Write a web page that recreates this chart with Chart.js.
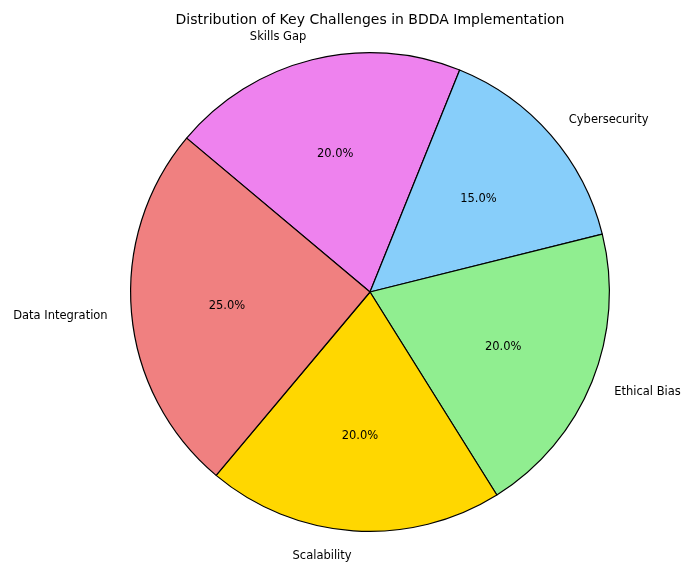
<!DOCTYPE html>
<html>
<head>
<meta charset="utf-8">
<script src="https://cdn.jsdelivr.net/npm/chart.js@4/dist/chart.umd.min.js"></script>
<style>
  html, body { margin: 0; padding: 0; background: #fff; }
  #wrap { width: 682px; height: 563px; position: relative; }
</style>
</head>
<body>
<div id="wrap"><canvas id="pie-chart"></canvas></div>
<script>
// values as in the source figure (counter-clockwise order, start at 140 deg)
const challenges = ['Data Integration', 'Scalability', 'Ethical Bias', 'Cybersecurity', 'Skills Gap'];
const shares = [25, 20, 20, 15, 20];
const sliceColors = ['#F08080', '#FFD700', '#90EE90', '#87CEFA', '#EE82EE'];
const chartTitle = 'Distribution of Key Challenges in BDDA Implementation';

// Chart.js goes clockwise from the top, so flip the order
const labels = challenges.slice().reverse();
const values = shares.slice().reverse();
const colors = sliceColors.slice().reverse();

const pieLabels = {
    id: 'pieLabels',
    afterDatasetsDraw(chart) {
        const ctx = chart.ctx;
        const meta = chart.getDatasetMeta(0);
        const total = values.reduce((a, b) => a + b, 0);
        ctx.save();
        ctx.fillStyle = '#000';
        ctx.textBaseline = 'middle';
        meta.data.forEach(function(arc, i) {
            const p = arc.getProps(['x', 'y', 'startAngle', 'endAngle', 'outerRadius'], true);
            const mid = (p.startAngle + p.endAngle) / 2;
            const cos = Math.cos(mid), sin = Math.sin(mid);
            // category label at 1.1 r
            ctx.font = '11.5px "DejaVu Sans"';
            ctx.textAlign = cos >= 0 ? 'left' : 'right';
            ctx.fillText(labels[i], p.x + cos * p.outerRadius * 1.1, p.y + sin * p.outerRadius * 1.1 + 1);
            // percentage at 0.6 r
            ctx.textAlign = 'center';
            ctx.fillText((values[i] / total * 100).toFixed(1) + '%', p.x + cos * p.outerRadius * 0.6, p.y + sin * p.outerRadius * 0.6 + 1);
        });
        ctx.font = '14px "DejaVu Sans"';
        ctx.textAlign = 'center';
        ctx.fillText(chartTitle, 370, 20);
        ctx.restore();
    }
};

new Chart(document.getElementById('pie-chart').getContext('2d'), {
    type: 'pie',
    data: {
        labels: labels,
        datasets: [{
            data: values,
            backgroundColor: colors,
            borderColor: '#000',
            borderWidth: 1.2,
            borderAlign: 'center'
        }]
    },
    options: {
        responsive: true,
        maintainAspectRatio: false,
        animation: false,
        rotation: -50,
        layout: { padding: { top: 52, bottom: 31, left: 130, right: 72 } },
        plugins: {
            legend: { display: false },
            tooltip: { enabled: false }
        }
    },
    plugins: [pieLabels]
});
</script>
</body>
</html>
